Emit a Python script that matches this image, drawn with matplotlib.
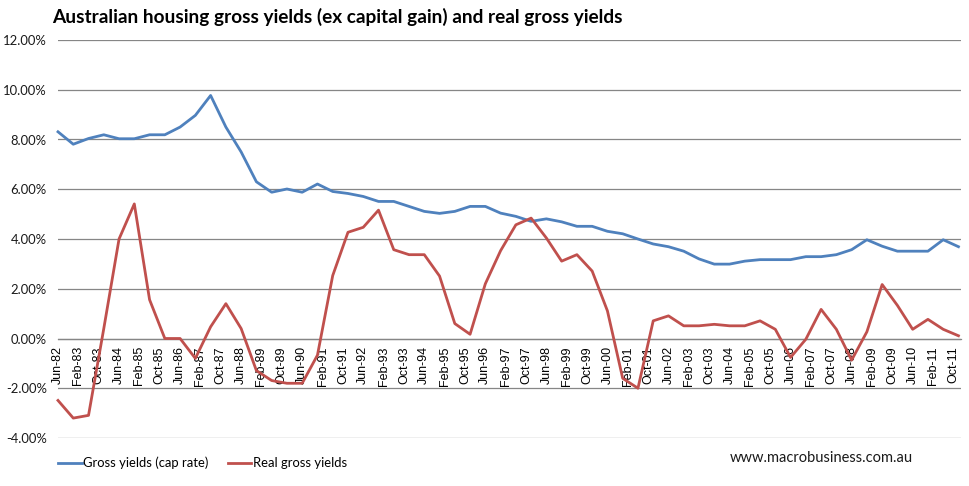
import matplotlib
matplotlib.use("Agg")
import matplotlib.pyplot as plt
from matplotlib.ticker import FuncFormatter

# ---- data (semi-annual, Jun-82 .. Dec-11) ----
months_from_start = [i * 6 for i in range(60)]
gross_yield = [8.31, 7.81, 8.04, 8.19, 8.03, 8.03, 8.19, 8.19, 8.50, 8.97,
               9.77, 8.50, 7.50, 6.30, 5.88, 6.01, 5.88, 6.21, 5.91, 5.83,
               5.71, 5.51, 5.51, 5.31, 5.11, 5.03, 5.11, 5.31, 5.31, 5.04,
               4.91, 4.71, 4.81, 4.69, 4.51, 4.51, 4.31, 4.21, 4.00, 3.80,
               3.69, 3.51, 3.20, 2.99, 2.99, 3.11, 3.17, 3.17, 3.17, 3.29,
               3.29, 3.37, 3.57, 3.97, 3.71, 3.51, 3.51, 3.51, 3.97, 3.69]
real_yield = [-2.49, -3.20, -3.09, 0.40, 4.00, 5.41, 1.56, 0.00, 0.00, -0.80,
              0.47, 1.40, 0.40, -1.29, -1.69, -1.80, -1.80, -0.67, 2.53, 4.27,
              4.47, 5.16, 3.57, 3.37, 3.37, 2.51, 0.60, 0.17, 2.20, 3.53,
              4.57, 4.84, 4.04, 3.11, 3.37, 2.71, 1.11, -1.60, -2.00, 0.71,
              0.91, 0.51, 0.51, 0.57, 0.51, 0.51, 0.71, 0.37, -0.76, -0.03,
              1.17, 0.37, -0.87, 0.27, 2.17, 1.33, 0.37, 0.77, 0.37, 0.11]
tick_labels = ["Jun-82", "Feb-83", "Oct-83", "Jun-84", "Feb-85", "Oct-85", "Jun-86",
               "Feb-87", "Oct-87", "Jun-88", "Feb-89", "Oct-89", "Jun-90", "Feb-91",
               "Oct-91", "Jun-92", "Feb-93", "Oct-93", "Jun-94", "Feb-95", "Oct-95",
               "Jun-96", "Feb-97", "Oct-97", "Jun-98", "Feb-99", "Oct-99", "Jun-00",
               "Feb-01", "Oct-01", "Jun-02", "Feb-03", "Oct-03", "Jun-04", "Feb-05",
               "Oct-05", "Jun-06", "Feb-07", "Oct-07", "Jun-08", "Feb-09", "Oct-09",
               "Jun-10", "Feb-11", "Oct-11"]
tick_months = [i * 8 for i in range(len(tick_labels))]
series_names = ["Gross yields (cap rate)", "Real gross yields"]

W, H = 969, 486
fig = plt.figure(figsize=(W / 100, H / 100), dpi=100)
left, right, top, bottom = 58, 961, 40, 438
ax = fig.add_axes([left / W, 1 - bottom / H, (right - left) / W, (bottom - top) / H])

FONT = "Lato"
grid_c = "#868686"

ax.plot(months_from_start, gross_yield, color="#4F81BD", lw=2.0, label=series_names[0],
        solid_joinstyle="round", clip_on=False, zorder=3)
ax.plot(months_from_start, real_yield, color="#C0504D", lw=2.0, label=series_names[1],
        solid_joinstyle="round", clip_on=False, zorder=3)

ax.set_xlim(0, 355)
ax.set_ylim(-4, 12)
ax.set_yticks(range(-4, 13, 2))
ax.yaxis.set_major_formatter(FuncFormatter(lambda v, p: f"{v:.2f}%"))
ax.grid(axis="y", color=grid_c, lw=0.9)
ax.set_axisbelow(True)
for s in ["top", "right", "left"]:
    ax.spines[s].set_visible(False)
ax.spines["bottom"].set_position(("data", 0))
ax.spines["bottom"].set_color(grid_c)
ax.spines["bottom"].set_linewidth(0.9)

ax.set_xticks(tick_months)
ax.set_xticklabels(tick_labels, rotation=90, fontsize=9, family="Liberation Sans",
                   va="top", ha="center")
ax.tick_params(axis="x", length=0, pad=5.5)
ax.tick_params(axis="y", length=0, pad=8, labelsize=9.4)
for t in ax.get_yticklabels():
    t.set_family(FONT)
    t.set_color("#1a1a1a")

fig.text(52 / W, 1 - 17 / H,
         "Australian housing gross yields (ex capital gain) and real gross yields",
         fontsize=13.65, fontweight="bold", family=FONT, va="center", ha="left")

leg = fig.legend(loc="center left", bbox_to_anchor=(58 / W, 1 - 463 / H), ncol=2,
                 frameon=False, borderpad=0, borderaxespad=0, handlelength=1.8,
                 handletextpad=0.15, columnspacing=1.45,
                 prop={"family": FONT, "size": 9.4})

fig.text(730 / W, 1 - 458 / H, "www.macrobusiness.com.au", fontsize=10.5,
         family=FONT, va="center", ha="left", color="#1a1a1a")

fig.savefig("out.png", dpi=100)
